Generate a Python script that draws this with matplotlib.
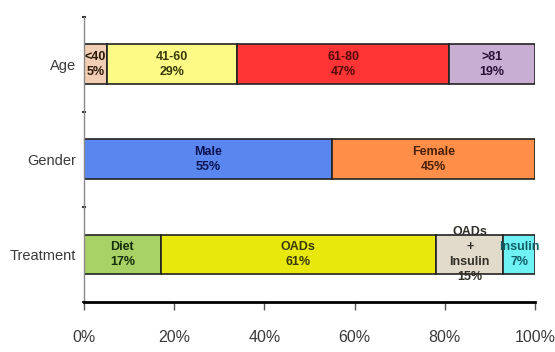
import matplotlib.pyplot as plt
import numpy as np

categories = ["Treatment", "Gender", "Age"]

age_labels = ["<40\n5%", "41-60\n29%", "61-80\n47%", ">81\n19%"]
age_values = [5, 29, 47, 19]
age_colors = ["#f2cfb4", "#fdfb86", "#ff3434", "#c9aed3"]
age_text = ["#2a1a08", "#3a3a08", "#5a0808", "#2a1038"]

gender_labels = ["Male\n55%", "Female\n45%"]
gender_values = [55, 45]
gender_colors = ["#5a86f0", "#ff8f48"]
gender_text = ["#0c1450", "#4a2008"]

treat_labels = ["Diet\n17%", "OADs\n61%", "OADs\n+\nInsulin\n15%", "Insulin\n7%"]
treat_values = [17, 61, 15, 7]
treat_colors = ["#a9d266", "#e8e80c", "#e2dacb", "#6ef2f4"]
treat_text = ["#142e08", "#3a3a08", "#303028", "#106068"]

rows = [
    (treat_labels, treat_values, treat_colors, treat_text),
    (gender_labels, gender_values, gender_colors, gender_text),
    (age_labels, age_values, age_colors, age_text),
]

fig = plt.figure(figsize=(5.55, 3.52), dpi=100)
ax = fig.add_axes([0.1514, 0.142, 0.8126, 0.81])

for i, (labels, values, colors, tcols) in enumerate(rows):
    y = i + 0.5
    left = 0
    for lab, v, c, tc in zip(labels, values, colors, tcols):
        ax.barh(y, v, left=left, height=0.42, color=c, edgecolor="#222222", linewidth=1.2)
        ax.text(left + v / 2, y, lab, ha="center", va="center", fontsize=9,
                fontweight="bold", color=tc, family="Liberation Sans", linespacing=1.3)
        left += v

ax.set_xlim(0, 100)
ax.set_ylim(0, 3)
ax.set_xticks(np.arange(0, 101, 20))
ax.set_xticklabels([f"{t}%" for t in range(0, 101, 20)], fontsize=11.5,
                   family="Liberation Sans", color="#3a3a3a")
ax.set_yticks([0, 1, 2, 3])
ax.set_yticklabels([])
ax.set_yticks([0.5, 1.5, 2.5], minor=True)
ax.set_yticklabels(categories, minor=True, fontsize=10.5, family="Liberation Sans",
                   color="#3a3a3a")
ax.tick_params(axis="y", which="minor", length=0, pad=6)
ax.tick_params(axis="y", which="major", length=3, width=1.5, color="#333333", direction="inout")
ax.tick_params(axis="x", length=6, width=1, color="#555555", pad=14)

for s in ["top", "right"]:
    ax.spines[s].set_visible(False)
ax.spines["left"].set_color("#888888")
ax.spines["left"].set_linewidth(1)
ax.spines["bottom"].set_color("black")
ax.spines["bottom"].set_linewidth(2)

fig.savefig("out.png", dpi=100)
